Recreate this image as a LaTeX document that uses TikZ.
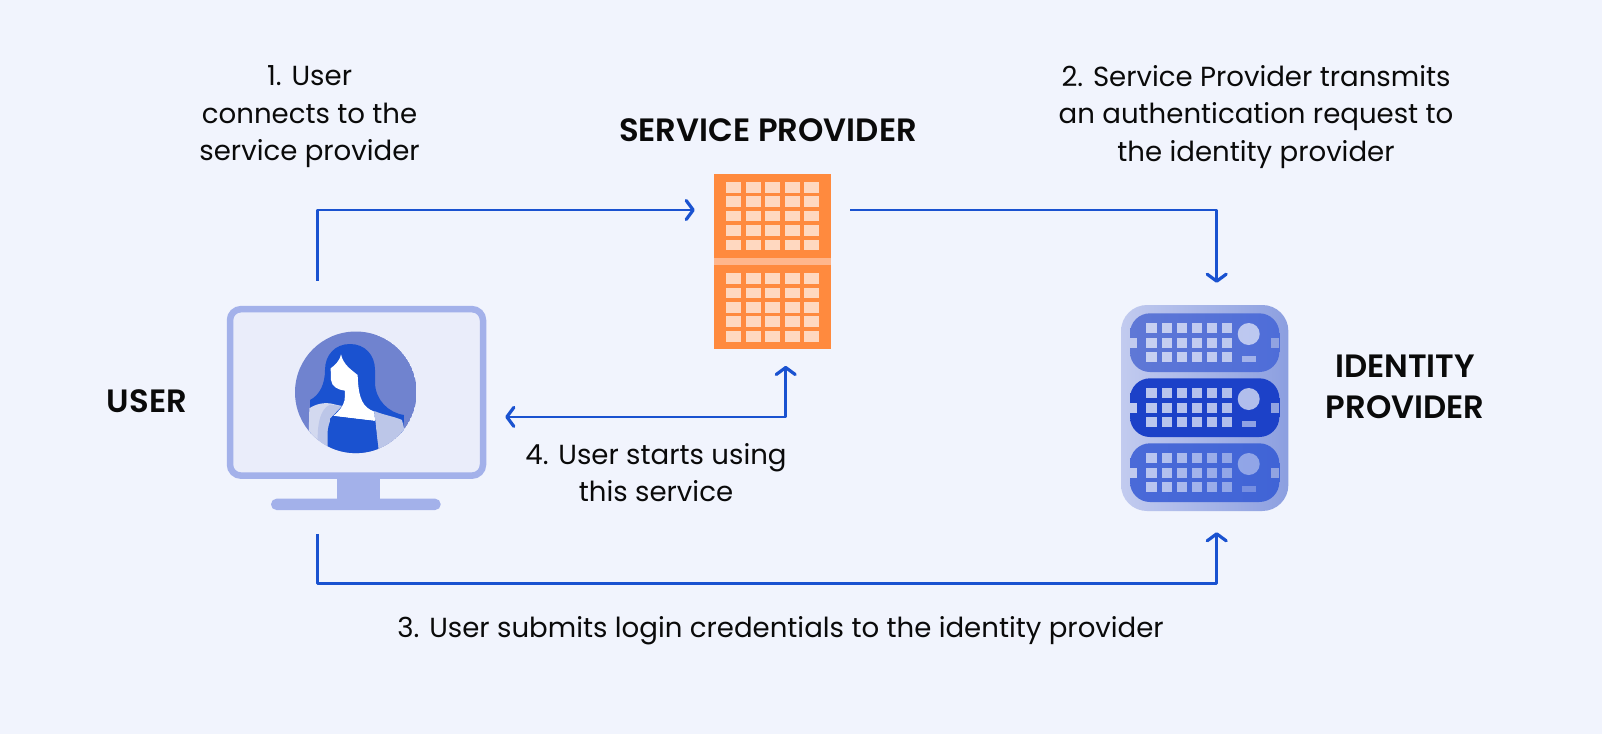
\documentclass[tikz,border=0pt]{standalone}
\usepackage{fontspec}
\setmainfont[BoldFont={Poppins SemiBold}]{Poppins}
\usetikzlibrary{arrows.meta}
\definecolor{bgc}{HTML}{F1F4FD}
\definecolor{monout}{HTML}{A3B1EA}
\definecolor{monin}{HTML}{EAEDFA}
\definecolor{circ}{HTML}{7083CF}
\definecolor{bluem}{HTML}{1A52D0}
\definecolor{jackl}{HTML}{D3D9EF}
\definecolor{jackm}{HTML}{BCC6E8}
\definecolor{orangem}{HTML}{FF8A3E}
\definecolor{orangeb}{HTML}{FFB68C}
\definecolor{orangec}{HTML}{FFD8C0}
\definecolor{srvl}{HTML}{C2CBEF}
\definecolor{srvr}{HTML}{8C9FE0}
\definecolor{txt}{HTML}{0A0A0A}
\tikzset{
 x=1pt,y=-1pt,
 conn/.style={draw=bluem,line width=2.6pt,line join=round,-{Straight Barb[length=7pt,width=19pt,line width=3.2pt,round]}},
 connr/.style={draw=bluem,line width=2.6pt,line join=round,{Straight Barb[length=7pt,width=19pt,line width=3.2pt,round]}-{Straight Barb[length=7pt,width=19pt,line width=3.2pt,round]}},
 lbl/.style={text=txt,align=center,inner sep=0pt,font=\fontsize{27.6}{37.5}\selectfont},
 head/.style={text=txt,align=center,inner sep=0pt,font=\fontsize{32.3}{41.5}\selectfont\bfseries},
}
\begin{document}
\begin{tikzpicture}
\useasboundingbox (0,0) rectangle (1602,734);
\fill[bgc] (0,0) rectangle (1602,734);
% monitor
\fill[monout] (336.7,475) rectangle (380,500);
\fill[monout,rounded corners=5.5pt] (271,498.7) rectangle (440.7,510);
\node[draw=monout,fill=monin,line width=6.5pt,rounded corners=11pt,minimum width=253pt,minimum height=166.5pt,inner sep=0pt] (user) at (356.5,392.4) {};
% person
\begin{scope}
\clip (355.8,392.3) circle (60.8);
\fill[circ] (355.8,392.3) circle (60.8);
\begin{scope}[shift={(280,320)},scale=1/3]
\fill[bluem] (90,240) .. controls (120,225) and (135,190) .. (135,150)
  .. controls (135,105) and (165,72) .. (210,72)
  .. controls (255,72) and (285,105) .. (285,150)
  -- (285,190) .. controls (287,240) and (325,278) .. (372,285)
  -- (370,340) -- (90,340) -- cycle;
\fill[jackl] (88,265) .. controls (110,250) and (135,248) .. (150,250)
  -- (185,258) -- (150,295) -- (143,390) -- (85,390) -- cycle;
\fill[jackm] (115,390) .. controls (108,320) and (120,265) .. (150,254)
  -- (185,258) -- (150,295) -- (143,390) -- cycle;
\fill[jackm] (283,273) .. controls (310,285) and (345,290) .. (366,300)
  -- (372,325) -- (400,400) -- (296,400) -- cycle;
\fill[white] (183,103) .. controls (178,125) and (165,135) .. (152,145)
  -- (153,180) .. controls (155,200) and (175,210) .. (195,212)
  -- (194,240) .. controls (190,260) and (175,275) .. (160,288)
  -- (285,303) -- (283,275) .. controls (250,262) and (235,240) .. (233,165)
  .. controls (215,150) and (190,135) .. (183,103) -- cycle;
\fill[bluem] (160,288) -- (285,303) -- (297,400) -- (143,400) -- (143,335) .. controls (145,315) and (150,300) .. (160,288) -- cycle;
\end{scope}
\end{scope}
% service provider
\node[fill=orangem,minimum width=117pt,minimum height=175.4pt,inner sep=0pt] (sp) at (772.5,261.7) {};
\fill[orangeb] (714,258.3) rectangle (831,265);
\foreach \xx in {726,745.7,765,785,804.3}{
 \foreach \yy in {182,196.3,210.7,225,239.7,273.3,287.7,302,316.3,331}{
  \fill[orangec] (\xx,\yy) rectangle ++(15,10.7);
 }}
% identity provider
\node[left color=srvl,right color=srvr,rounded corners=26pt,minimum width=167.3pt,minimum height=206pt,inner sep=0pt] (idp) at (1204.7,408) {};
\foreach \dy/\lc/\rc/\oa/\ob in {0/5F78D6/4E6DD8/0.66/0.62,65/1C41C8/1C41C8/0.7/0.66,130/4A6AD8/4064D6/0.62/0.42}{
 \definecolor{cl}{HTML}{\lc}\definecolor{cr}{HTML}{\rc}
 \begin{scope}[yshift=-\dy pt]
 \shade[left color=cl,right color=cr,rounded corners=20pt] (1130,313.3) rectangle (1279.3,372);
 \fill[srvl] (1130,337.7) rectangle (1137.3,347.7);
 \fill[srvr!90!srvl] (1270.7,337.7) rectangle (1279.3,347.7);
 \foreach \xx [count=\i from 0] in {1146.3,1161.7,1176.7,1191.7,1207,1222}{
  \pgfmathsetmacro{\op}{\oa+(\ob-\oa)*\i/5}
  \foreach \yy in {323.3,337.7,352}{
   \fill[white,opacity=\op] (\xx,\yy) rectangle ++(10.3,10);
  }}
 \fill[white,opacity=\ob] (1248.7,334) circle (11);
 \fill[white,opacity=\ob-0.15] (1242.3,355.7) rectangle (1255.7,361.7);
 \end{scope}
}
% connector ends
\coordinate (a1s) at ([xshift=-39pt,yshift=25pt]user.north);
\coordinate (a1e) at ([yshift=51.7pt]sp.west);
\coordinate (a1t) at ([xshift=-19pt]a1e);
\coordinate (a2s) at ([xshift=19pt,yshift=51.7pt]sp.east);
\coordinate (a2e) at ([xshift=12pt,yshift=22pt]idp.north);
\coordinate (a3s) at ([xshift=-39pt,yshift=-55pt]user.south);
\coordinate (a3e) at ([xshift=12pt,yshift=-21pt]idp.south);
\coordinate (a4u) at ([xshift=19pt,yshift=-24.5pt]user.east);
\coordinate (a4s) at ([xshift=13.2pt,yshift=-16.3pt]sp.south);
\draw[conn] (a1s) |- (a1t);
\draw[conn] (a2s) -| (a2e);
\draw[conn] (a3s) |- (1000,583.7) -| (a3e);
\draw[connr] (a4u) -| (a4s);
% labels
\node[lbl] (t1) at (309.6,117) {1. User\\connects to the\\service provider};
\node[lbl] (t2) at (1256,117) {2. Service Provider transmits\\an authentication request to\\the identity provider};
\node[lbl] (t3) at (780.6,631) {3. User submits login credentials to the identity provider};
\node[lbl] (t4) at (656,472.5) {4. User starts using\\this service};
\node[head] (hu) at (147,401.5) {USER};
\node[head] (hs) at (768,130) {SERVICE PROVIDER};
\node[head] (hi) at (1405,387) {IDENTITY\\PROVIDER};
\end{tikzpicture}
\end{document}
